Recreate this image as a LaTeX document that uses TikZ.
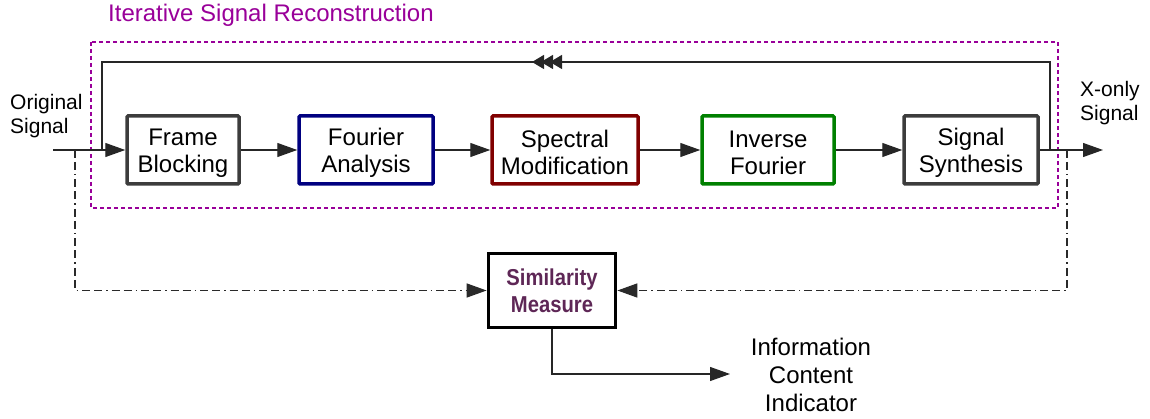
\documentclass[tikz,border=0pt]{standalone}
\usepackage{fontspec}
\setmainfont{Liberation Sans}
\newfontfamily\simfont[FakeStretch=0.88]{Liberation Sans Bold}
\usetikzlibrary{arrows.meta,decorations.markings}
\definecolor{boxgray}{HTML}{3C3C3C}
\definecolor{boxblue}{HTML}{000080}
\definecolor{boxred}{HTML}{800000}
\definecolor{boxgreen}{HTML}{008000}
\definecolor{grpurple}{HTML}{990099}
\definecolor{simtext}{HTML}{5E2756}
\definecolor{dashgray}{HTML}{2A2A2A}
\newcommand\lowstrut{\rule{0pt}{23pt}}
\begin{document}
\begin{tikzpicture}[x=1pt,y=-1pt,
  blk/.style={draw=#1, line width=3.5pt, rounded corners=1pt, minimum height=68pt, align=center,
    font=\fontsize{24}{27}\selectfont, inner sep=0pt},
  conn/.style={line width=1.2pt, draw=black!85},
  tip/.style={-{Triangle[length=20pt,width=14pt]}},
  fb/.style={line width=1.6pt, draw=dashgray, dash pattern=on 8pt off 4pt on 8pt off 4pt on 1.5pt off 4pt},
  lbl/.style={align=left, font=\fontsize{21}{24}\selectfont, inner sep=0pt},
  ]
\useasboundingbox (0,0) rectangle (1150,419);
% group box
\draw[grpurple, line width=1.8pt, dash pattern=on 4pt off 3pt] (91,42) rectangle (1058,208);
\node[anchor=west, text=grpurple, font=\fontsize{24}{27}\selectfont, inner sep=0pt] (title) at (108,15) {Iterative Signal Reconstruction};
% blocks
\node[blk=boxgray, minimum width=112pt] (fb) at (183,150) {\lowstrut Frame\\Blocking};
\node[blk=boxblue, minimum width=134pt] (fa) at (366,150) {\lowstrut Fourier\\Analysis};
\node[blk=boxred, minimum width=146pt] (sm) at (565,150) {\lowstrut Spectral\\Modification};
\node[blk=boxgreen, minimum width=132pt] (if) at (768,150) {\lowstrut Inverse\\Fourier};
\node[blk=boxgray, minimum width=134pt] (ss) at (971,150) {\lowstrut Signal\\Synthesis};
\node[draw=black, line width=3.8pt, minimum width=127pt, minimum height=74pt, align=center, inner sep=0pt,
  text=simtext, font=\simfont\fontsize{23}{27}\selectfont] (sim) at (552,290.5) {Similarity\\Measure};
% labels
\node[lbl, anchor=west] (orig) at (10,116) {Original\\Signal};
\node[lbl, anchor=west] (xo) at (1080,103) {X-only\\Signal};
\node[align=center, inner sep=0pt, font=\fontsize{24}{28}\selectfont] (info) at (811,375) {Information\\Content\\Indicator};
% coordinates
\coordinate (in) at (53,150);
\coordinate (out) at (1103,150);
\coordinate (lpR) at (1050,150);
\coordinate (lpL) at (102,150);
\coordinate (tapL) at (75,150);
\coordinate (tapR) at (1067,150);
\coordinate (infoin) at (730,374);
% main chain
\draw[conn,tip] (in) -- (fb.west);
\draw[conn,tip] (fb) -- (fa);
\draw[conn,tip] (fa) -- (sm);
\draw[conn,tip] (sm) -- (if);
\draw[conn,tip] (if) -- (ss);
\draw[conn,tip] (ss.east) -- (out);
% feedback loop
\draw[conn, postaction={decorate}, decoration={markings, mark=at position 606pt with {\arrow{Triangle[length=12pt,width=14pt,sep=-3pt] Triangle[length=12pt,width=14pt,sep=-3pt] Triangle[length=12pt,width=14pt]}}}]
  (lpR) -- (lpR |- 0,62) -- (lpL |- 0,62) -- (lpL);
% dash-dot comparisons
\draw[fb, -{Triangle[length=20pt,width=14pt]}] (tapL) |- (sim.west);
\draw[fb, -{Triangle[length=20pt,width=14pt]}] (tapR) |- (sim.east);
% output to indicator
\draw[conn,tip] (sim.south) |- (infoin);
\end{tikzpicture}
\end{document}
